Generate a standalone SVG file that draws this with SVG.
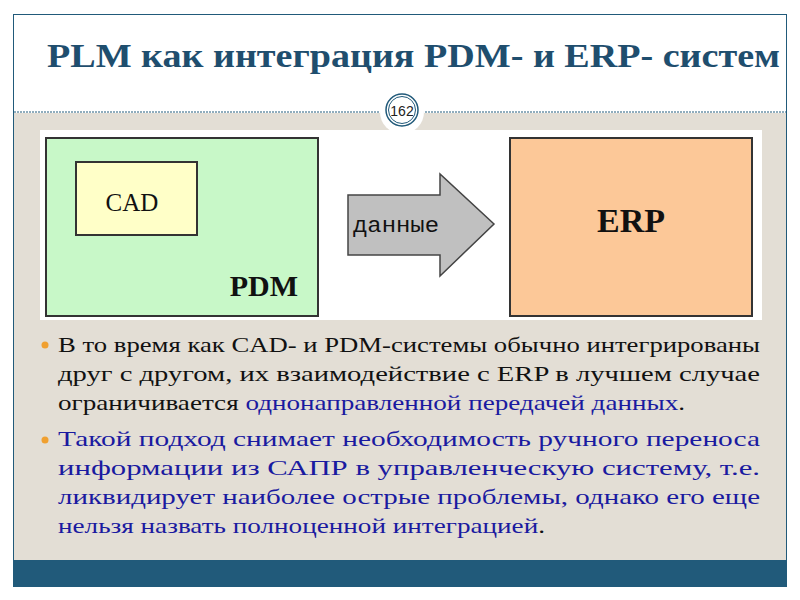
<svg xmlns="http://www.w3.org/2000/svg" width="800" height="600" viewBox="0 0 800 600">
<style>
.t{font-family:"Liberation Serif","Times New Roman","DejaVu Serif",serif;font-size:22px;fill:#111}
.b{fill:#1a1aa0}
.d{font-family:"Liberation Serif","Times New Roman","DejaVu Serif",serif;font-weight:bold;fill:#111}
</style>
<rect width="800" height="600" fill="#fff"/>
<rect x="13" y="113" width="774" height="448" fill="#e3ded5"/>
<rect x="13" y="560" width="774" height="27" fill="#215a7a"/>
<rect x="13.5" y="14.5" width="773" height="572" fill="none" stroke="#215a7a" stroke-width="1"/>
<line x1="14" y1="112" x2="786" y2="112" stroke="#215a7a" stroke-dasharray="2,1"/>
<text x="47" y="67" textLength="733" lengthAdjust="spacingAndGlyphs" class="d" font-size="33" style="fill:#1f4e6e">PLM как интеграция PDM- и ERP- систем</text>
<g id="pagenum">
<circle cx="402" cy="112" r="22" fill="#fff"/>
<circle cx="402" cy="110" r="16" fill="#fff" stroke="#215a7a" stroke-width="1.5"/>
<circle cx="402" cy="110" r="13.5" fill="none" stroke="#215a7a" stroke-width="1"/>
<text x="402" y="115.5" text-anchor="middle" font-family="Liberation Sans,sans-serif" font-size="14" fill="#222">162</text>
</g>
<rect x="40" y="130" width="722" height="190" fill="#fff"/>
<g id="pdm">
<rect x="46" y="138" width="272" height="178" fill="#c8f8c8" stroke="#333" stroke-width="2"/>
<text x="298" y="296" text-anchor="end" class="d" font-size="30">PDM</text>
</g>
<g id="cad">
<rect x="76" y="162" width="121" height="73" fill="#ffffc8" stroke="#333" stroke-width="2"/>
<text x="132" y="211" text-anchor="middle" class="d" font-size="25" style="font-weight:normal">CAD</text>
</g>
<g id="connectors">
<polygon points="348,195 440,195 440,174 494,224 440,276 440,255 348,255" fill="#c0c0c0" stroke="#444" stroke-width="1.5"/>
<text x="396" y="232" text-anchor="middle" textLength="86" lengthAdjust="spacingAndGlyphs" font-family="Liberation Mono,monospace" font-size="22" fill="#111">данные</text>
</g>
<g id="erp">
<rect x="510" y="138" width="242" height="178" fill="#fcc898" stroke="#333" stroke-width="2"/>
<text x="631" y="232" text-anchor="middle" class="d" font-size="34">ERP</text>
</g>
<circle cx="45" cy="345" r="3.5" fill="#f0a030"/>
<circle cx="45" cy="440" r="3.5" fill="#f0a030"/>
<text class="t" x="58" y="352" textLength="702" lengthAdjust="spacingAndGlyphs">В то время как CAD- и PDM-системы обычно интегрированы</text>
<text class="t" x="58" y="381" textLength="702" lengthAdjust="spacingAndGlyphs">друг с другом, их взаимодействие с ERP в лучшем случае</text>
<text class="t" x="58" y="410" textLength="627" lengthAdjust="spacingAndGlyphs">ограничивается <tspan class="b">однонаправленной передачей данных</tspan>.</text>
<text class="t b" x="58" y="446" textLength="702" lengthAdjust="spacingAndGlyphs">Такой подход снимает необходимость ручного переноса</text>
<text class="t b" x="58" y="475" textLength="702" lengthAdjust="spacingAndGlyphs">информации из САПР в управленческую систему, т.е.</text>
<text class="t b" x="58" y="504" textLength="702" lengthAdjust="spacingAndGlyphs">ликвидирует наиболее острые проблемы, однако его еще</text>
<text class="t" x="58" y="533" textLength="487" lengthAdjust="spacingAndGlyphs"><tspan class="b">нельзя назвать полноценной интеграцией</tspan>.</text>
</svg>
